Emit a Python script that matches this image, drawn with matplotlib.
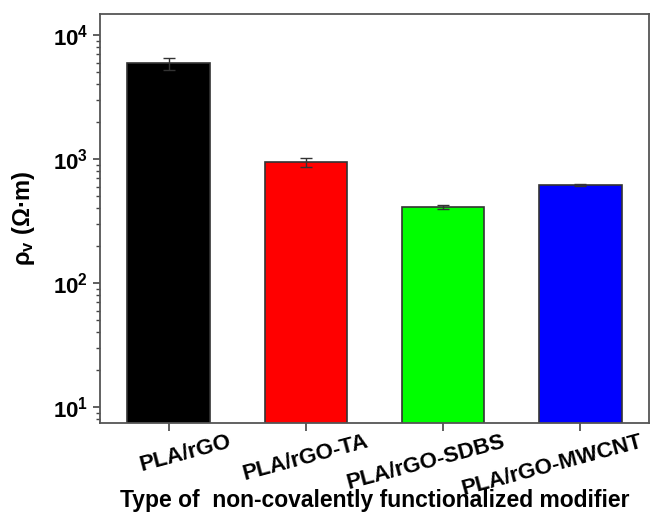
import matplotlib
matplotlib.use("Agg")
import matplotlib.pyplot as plt
import matplotlib.transforms as mtransforms
from matplotlib.ticker import LogLocator, FuncFormatter, NullFormatter
import numpy as np

plt.rcParams["font.family"] = ["Liberation Sans", "DejaVu Sans"]
plt.rcParams["font.weight"] = "bold"
plt.rcParams["mathtext.fontset"] = "custom"
plt.rcParams["mathtext.rm"] = "Liberation Sans:bold"
plt.rcParams["mathtext.bf"] = "Liberation Sans:bold"
plt.rcParams["mathtext.it"] = "Liberation Sans:bold"

samples = ["PLA/rGO", "PLA/rGO-TA", "PLA/rGO-SDBS", "PLA/rGO-MWCNT"]
resistivity = [5900, 940, 410, 614]
resistivity_err = [650, 80, 15, 10]
colors = ["#000000", "#ff0000", "#00ff00", "#0000ff"]

fig = plt.figure(figsize=(6.52, 5.13), dpi=100)
ax = fig.add_axes([0.1534, 0.1754, 0.8420, 0.7973])

x = np.arange(1, len(samples) + 1)
ax.bar(x, resistivity, width=0.6, color=colors, edgecolor="#333333", linewidth=1.2,
       yerr=resistivity_err, error_kw=dict(ecolor="#333333", elinewidth=1.0, capsize=4, capthick=1.0))

ax.set_yscale("log")
ax.set_ylim(7.43, 14770)
ax.set_xlim(0.5, 4.5)

ax.yaxis.set_major_locator(LogLocator(base=10, numticks=10))
ax.yaxis.set_minor_locator(LogLocator(base=10, subs=np.arange(2, 10), numticks=10))
ax.yaxis.set_major_formatter(FuncFormatter(lambda v, p: r"$\mathbf{10^{%d}}$" % round(np.log10(v))))
ax.yaxis.set_minor_formatter(NullFormatter())

# category labels: tilted, right end shifted past the tick
ax.set_xticks(x)
ax.set_xticklabels([])
lbl_trans = mtransforms.blended_transform_factory(ax.transData, ax.transAxes) + \
    mtransforms.ScaledTranslation(0.59, -0.08, fig.dpi_scale_trans)
for xi, name in zip(x, samples):
    ax.text(xi, 0, name, transform=lbl_trans, rotation=15, ha="right", va="top",
            rotation_mode="anchor", fontsize=16, fontweight="bold", clip_on=False)

ax.tick_params(axis="y", which="major", direction="out", length=5, width=1.2, labelsize=16, color="#444444")
ax.tick_params(axis="y", which="minor", direction="out", length=3, width=1.0, color="#444444")
ax.tick_params(axis="x", which="major", direction="out", length=6, width=1.2, color="#444444")

for s in ax.spines.values():
    s.set_color("#555555")
    s.set_linewidth(1.3)

ax.set_ylabel(r"$\mathbf{\rho_{v}}$ (Ω·m)", fontsize=17, fontweight="bold")
ax.yaxis.set_label_coords(-0.115, 0.5)
ax.set_xlabel("Type of  non-covalently functionalized modifier", fontsize=16.5, fontweight="bold")
ax.xaxis.set_label_coords(0.5, -0.162)

fig.savefig("out.png", dpi=100)
